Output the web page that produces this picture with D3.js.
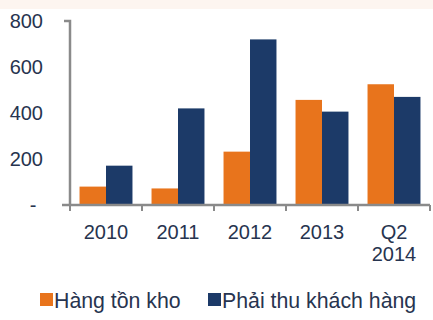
<!DOCTYPE html>
<html>
<head>
<meta charset="utf-8">
<script src="https://cdn.jsdelivr.net/npm/d3@7"></script>
<style>
  html, body { margin: 0; padding: 0; background: #fff; }
  svg { display: block; font-family: "Liberation Sans", Arial, sans-serif; }
</style>
</head>
<body>
<svg id="chart" width="433" height="320"></svg>
<script>
// Categories and series
const categories = ["2010", "2011", "2012", "2013", "Q2\n2014"];
const inventory = [80, 72, 232, 457, 525];       // Hàng tồn kho
const receivables = [171, 420, 720, 406, 470];   // Phải thu khách hàng
const yTicks = [0, 200, 400, 600, 800];
const yTickLabels = ["-", "200", "400", "600", "800"];
const seriesNames = ["Hàng tồn kho", "Phải thu khách hàng"];
const seriesColors = ["#e8741c", "#1c3a68"];

const svg = d3.select("#chart");
const textColor = "#27344f";
const axisColor = "#8a8a8a";

// faint warm band along the top edge
svg.append("rect").attr("x", 0).attr("y", 0).attr("width", 433).attr("height", 9)
  .attr("fill", "#fdf5f0");

const plot = { left: 70, right: 430, top: 21, bottom: 205 };

const x = d3.scaleBand().domain(categories).range([plot.left, plot.right]).padding(0);
const x1 = d3.scaleBand().domain([0, 1]).range([0, x.bandwidth()]).paddingOuter(0.36).paddingInner(0);
const y = d3.scaleLinear().domain([0, 800]).range([plot.bottom, plot.top]);

// bars
const groups = svg.append("g").selectAll("g").data(categories).join("g")
  .attr("transform", d => `translate(${x(d)},0)`);
groups.selectAll("rect")
  .data((d, i) => [inventory[i], receivables[i]])
  .join("rect")
  .attr("x", (d, j) => x1(j))
  .attr("width", x1.bandwidth())
  .attr("y", d => y(d))
  .attr("height", d => y(0) - y(d))
  .attr("fill", (d, j) => seriesColors[j]);

// y axis
const yAxis = d3.axisLeft(y).tickValues(yTicks).tickSize(0).tickSizeOuter(6)
  .tickFormat((d, i) => yTickLabels[i]).tickPadding(27);
const gy = svg.append("g").attr("transform", `translate(${plot.left},0)`).call(yAxis);
gy.select(".domain").attr("stroke", axisColor).attr("stroke-width", 2.5).attr("d", `M-6,${plot.top}H0V${plot.bottom}`);
gy.selectAll("text").attr("fill", textColor).attr("font-size", 20)
  .attr("font-family", "'Liberation Sans', Arial, sans-serif")
  .attr("text-anchor", "end")
  .filter(d => d === 0).attr("text-anchor", "middle").attr("dx", -10);

// x axis line and boundary ticks
const gx = svg.append("g");
gx.append("line").attr("x1", plot.left - 8).attr("x2", plot.right)
  .attr("y1", plot.bottom).attr("y2", plot.bottom)
  .attr("stroke", axisColor).attr("stroke-width", 2.5);
const bounds = categories.map(c => x(c)).concat([x(categories[categories.length - 1]) + x.bandwidth()]);
gx.selectAll("line.tick").data(bounds).join("line").attr("class", "tick")
  .attr("x1", d => d).attr("x2", d => d)
  .attr("y1", plot.bottom).attr("y2", plot.bottom + 6)
  .attr("stroke", axisColor).attr("stroke-width", 2);

// category labels
const lbl = gx.selectAll("text").data(categories).join("text")
  .attr("x", d => x(d) + x.bandwidth() / 2)
  .attr("y", 239)
  .attr("text-anchor", "middle")
  .attr("font-size", 20)
  .attr("fill", textColor);
lbl.each(function(d) {
  const parts = d.split("\n");
  d3.select(this).selectAll("tspan").data(parts).join("tspan")
    .attr("x", x(d) + x.bandwidth() / 2)
    .attr("dy", (p, i) => i === 0 ? 0 : 22)
    .text(p => p);
});

// legend
const legendItems = [
  { name: seriesNames[0], color: seriesColors[0], x: 40 },
  { name: seriesNames[1], color: seriesColors[1], x: 208 }
];
const lg = svg.append("g").selectAll("g").data(legendItems).join("g")
  .attr("transform", d => `translate(${d.x},300)`);
lg.append("rect").attr("x", 0).attr("y", -7).attr("width", 13).attr("height", 13)
  .attr("fill", d => d.color);
lg.append("text").attr("x", 14).attr("y", 7.5).attr("font-size", 21.3)
  .attr("fill", textColor).text(d => d.name);
</script>
</body>
</html>
